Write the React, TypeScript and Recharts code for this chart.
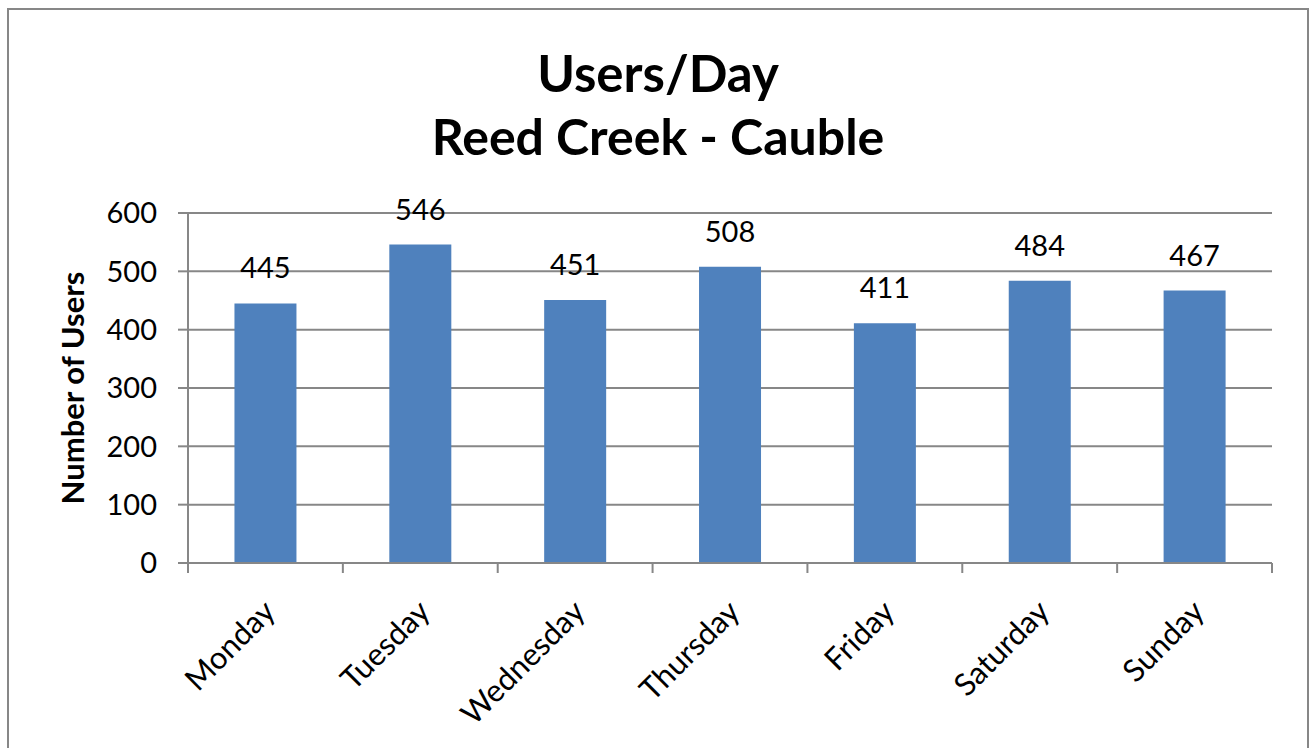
import { BarChart, Bar, XAxis, YAxis, CartesianGrid, LabelList } from "recharts"

const days = ["Monday", "Tuesday", "Wednesday", "Thursday", "Friday", "Saturday", "Sunday"]
const users = [445, 546, 451, 508, 411, 484, 467]
const yTicks = [0, 100, 200, 300, 400, 500, 600]

const data = days.map((day, i) => ({ day, users: users[i] }))

const GRID = "#878787"
const FONT = "Lato, 'Open Sans', sans-serif"

// Excel-style category axis: tick marks sit between categories, labels at 45°
function DayTick({ x, y, payload, index }: any) {
  const half = payload.offset || 0
  const last = index === days.length - 1
  return (
    <g>
      <line x1={x - half} x2={x - half} y1={y} y2={y + 10} stroke={GRID} strokeWidth={2} />
      {last && (
        <line x1={x + half} x2={x + half} y1={y} y2={y + 10} stroke={GRID} strokeWidth={2} />
      )}
      <g transform={`translate(${x - 4},${y + 35})`}>
        <text x={0} y={0} dy="0.71em" textAnchor="end" transform="rotate(-45)" fontSize={31} fill="#000">
          {payload.value}
        </text>
      </g>
    </g>
  )
}

export default function App() {
  return (
    <div
      style={{
        position: "absolute",
        left: 0,
        top: 0,
        width: 1312,
        height: 748,
        overflow: "hidden",
        background: "#fff",
        fontFamily: FONT,
      }}
    >
      <div
        style={{
          position: "absolute",
          left: 7,
          top: 8,
          width: 1302,
          height: 800,
          border: `2px solid ${GRID}`,
          boxSizing: "border-box",
        }}
      />
      <svg width={1312} height={200} style={{ position: "absolute", left: 0, top: 0 }}>
        <text x={658} y={92} textAnchor="middle" fontSize={51} fontWeight={700} fill="#000">
          Users/Day
        </text>
        <text x={658} y={155} textAnchor="middle" fontSize={50} fontWeight={700} fill="#000">
          Reed Creek - Cauble
        </text>
      </svg>
      <div style={{ position: "absolute", left: 0, top: 0 }}>
        <BarChart
          width={1312}
          height={748}
          data={data}
          margin={{ top: 213, right: 40, bottom: 35, left: 0 }}
          barCategoryGap="30%"
        >
          <CartesianGrid vertical={false} stroke={GRID} strokeWidth={2} />
          <XAxis
            dataKey="day"
            interval={0}
            height={150}
            tickSize={0}
            tickMargin={0}
            tickLine={false}
            axisLine={{ stroke: GRID, strokeWidth: 2 }}
            tick={<DayTick />}
          />
          <YAxis
            width={188}
            domain={[0, 600]}
            ticks={yTicks}
            interval={0}
            tickSize={10}
            tickMargin={21}
            axisLine={{ stroke: GRID, strokeWidth: 2 }}
            tickLine={{ stroke: GRID, strokeWidth: 2 }}
            tick={{ fill: "#000", fontSize: 29 }}
            label={{
              value: "Number of Users",
              angle: -90,
              position: "insideLeft",
              offset: 73,
              style: { textAnchor: "middle", fontWeight: 700, fontSize: 31, fill: "#000" },
            }}
          />
          <Bar dataKey="users" fill="#4F81BD" isAnimationActive={false}>
            <LabelList dataKey="users" position="top" offset={25} fill="#000" fontSize={29} />
          </Bar>
        </BarChart>
      </div>
    </div>
  )
}
